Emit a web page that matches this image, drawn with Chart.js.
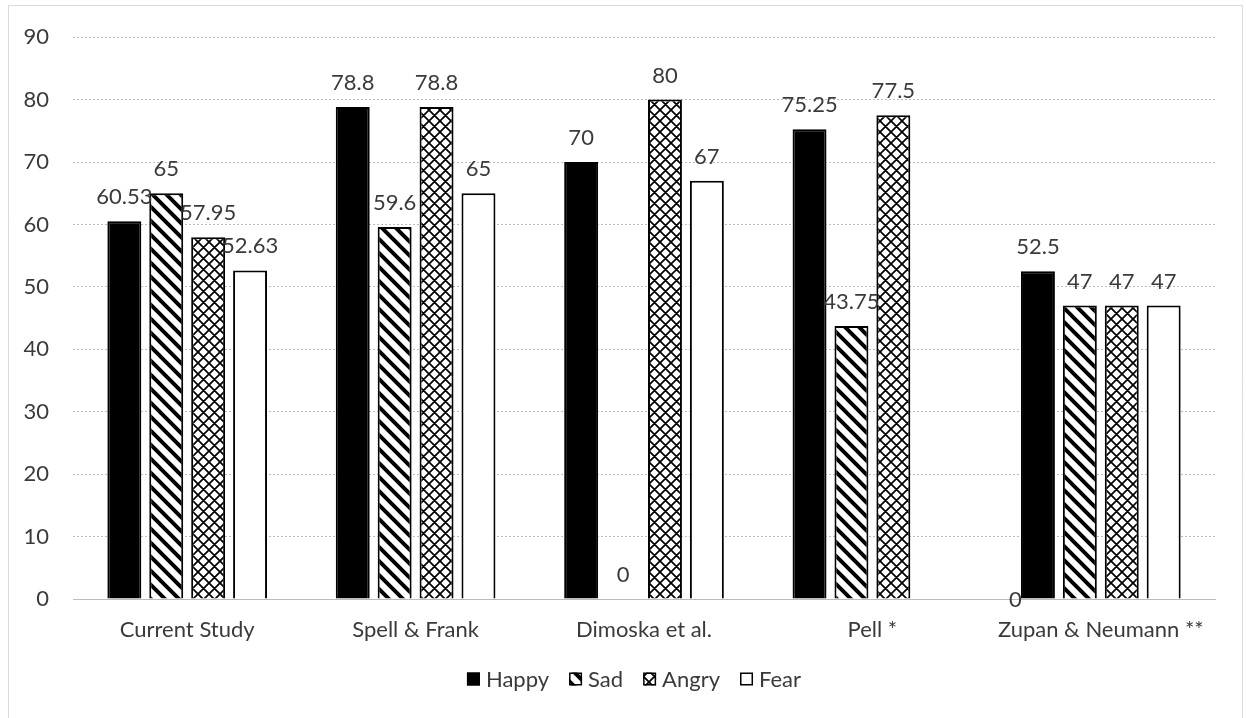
<!DOCTYPE html>
<html>
<head>
<meta charset="utf-8">
<title>Recognition accuracy by emotion</title>
<script src="https://cdn.jsdelivr.net/npm/chart.js@4.4.1/dist/chart.umd.min.js"></script>
<style>
  html, body { margin: 0; padding: 0; background: #fff; }
  #wrap { width: 1246px; height: 718px; position: relative; }
</style>
</head>
<body>
<div id="wrap"><canvas id="chart" width="1246" height="718"></canvas></div>
<script>
// Studies compared along the x axis
const categories = ['Current Study', 'Spell & Frank', 'Dimoska et al.', 'Pell *', 'Zupan & Neumann **'];

// Percent correct per emotion, one value per study
const happy = [60.53, 78.8, 70, 75.25, 52.5];
const sad   = [65, 59.6, 0, 43.75, 47];
const angry = [57.95, 78.8, 80, 77.5, 47];
const fear  = [52.63, 65, 67, 0, 47];

// Value axis range and step
const yMin = 0;
const yMax = 90;
const yStep = 10;

const FONT = 'Lato, "Open Sans", sans-serif';
const TEXT = '#3a3a3a';
const FS = 22;

const canvas = document.getElementById('chart');
const ctx = canvas.getContext('2d');

// Fill patterns for the bars
function stripePattern() {
  const s = 14;
  const c = document.createElement('canvas');
  c.width = s; c.height = s;
  const g = c.getContext('2d');
  g.fillStyle = '#fff';
  g.fillRect(0, 0, s, s);
  g.strokeStyle = '#000';
  g.lineWidth = 4;
  g.beginPath();
  for (const o of [-s, 0, s]) {
    g.moveTo(o - 2, -2);
    g.lineTo(o + s + 2, s + 2);
  }
  g.stroke();
  return ctx.createPattern(c, 'repeat');
}

function crossPattern() {
  const s = 11;
  const c = document.createElement('canvas');
  c.width = s; c.height = s;
  const g = c.getContext('2d');
  g.fillStyle = '#fff';
  g.fillRect(0, 0, s, s);
  g.strokeStyle = '#000';
  g.lineWidth = 1.7;
  g.beginPath();
  for (const o of [-s, 0, s]) {
    g.moveTo(o - 2, -2);
    g.lineTo(o + s + 2, s + 2);
    g.moveTo(o - 2, s + 2);
    g.lineTo(o + s + 2, -2);
  }
  g.stroke();
  return ctx.createPattern(c, 'repeat');
}

const series = [
  { label: 'Happy', data: happy, fill: '#000000' },
  { label: 'Sad',   data: sad,   fill: stripePattern() },
  { label: 'Angry', data: angry, fill: crossPattern() },
  { label: 'Fear',  data: fear,  fill: '#ffffff' }
];

// White page, dotted frame around the figure
const framePlugin = {
  id: 'frame',
  beforeDraw(chart) {
    const c = chart.ctx;
    c.save();
    c.fillStyle = '#fff';
    c.fillRect(0, 0, chart.width, chart.height);
    c.strokeStyle = '#b4b4b4';
    c.lineWidth = 1;
    c.setLineDash([1, 1]);
    c.strokeRect(8.5, 5.5, chart.width - 12, chart.height + 20);
    c.restore();
  }
};

// The Pell fear label sits beside its group, on the axis line
const labelShift = { 'Fear|Pell *': [80, 25] };

// Value printed above each bar
const valueLabels = {
  id: 'valueLabels',
  afterDatasetsDraw(chart) {
    const c = chart.ctx;
    c.save();
    c.font = FS + 'px ' + FONT;
    c.fillStyle = TEXT;
    c.textAlign = 'center';
    c.textBaseline = 'alphabetic';
    chart.data.datasets.forEach((ds, i) => {
      const meta = chart.getDatasetMeta(i);
      meta.data.forEach((bar, j) => {
        const sh = labelShift[ds.label + '|' + chart.data.labels[j]] || [0, 0];
        c.fillText(String(ds.data[j]), bar.x + sh[0], bar.y - 17 + sh[1]);
      });
    });
    c.restore();
  }
};

// Legend row under the axis labels
const legendRow = {
  id: 'legendRow',
  afterDraw(chart) {
    const c = chart.ctx;
    const box = 13, gap = 6, spacing = 20;
    c.save();
    c.font = FS + 'px ' + FONT;
    const items = chart.data.datasets.map(ds => ({
      text: ds.label, fill: ds.backgroundColor, w: c.measureText(ds.label).width
    }));
    const total = items.reduce((a, it) => a + box + gap + it.w, 0) + spacing * (items.length - 1);
    let x = 634 - total / 2;
    const yMid = 679;
    items.forEach(it => {
      c.fillStyle = it.fill;
      c.fillRect(x, yMid - box / 2, box, box);
      c.strokeStyle = '#000';
      c.lineWidth = 1.5;
      c.strokeRect(x + 0.75, yMid - box / 2 + 0.75, box - 1.5, box - 1.5);
      c.fillStyle = TEXT;
      c.textAlign = 'left';
      c.textBaseline = 'middle';
      c.fillText(it.text, x + box + gap, yMid + 1);
      x += box + gap + it.w + spacing;
    });
    c.restore();
  }
};

new Chart(ctx, {
  type: 'bar',
  data: {
    labels: categories,
    datasets: series.map(s => ({
      label: s.label,
      data: s.data,
      backgroundColor: s.fill,
      borderColor: '#000',
      borderWidth: 2,
      borderSkipped: 'start',
      categoryPercentage: 0.734,
      barPercentage: 0.81
    }))
  },
  options: {
    responsive: false,
    animation: false,
    devicePixelRatio: 1,
    layout: { padding: { left: 0, right: 31, top: 35, bottom: 0 } },
    plugins: {
      legend: { display: false },
      tooltip: { enabled: false }
    },
    scales: {
      x: {
        grid: { display: false, drawTicks: false },
        border: { display: true, color: '#bcbcbc' },
        ticks: {
          color: TEXT,
          font: { family: FONT, size: FS },
          padding: 18,
          maxRotation: 0
        },
        afterFit(scale) { scale.height = 119; }
      },
      y: {
        min: yMin,
        max: yMax,
        ticks: {
          stepSize: yStep,
          color: TEXT,
          font: { family: FONT, size: FS },
          padding: 24
        },
        grid: { color: '#bcbcbc', lineWidth: 1, drawTicks: false },
        border: { display: false, dash: [2, 2] },
        afterFit(scale) { scale.width = 73; }
      }
    }
  },
  plugins: [framePlugin, valueLabels, legendRow]
});
</script>
</body>
</html>
